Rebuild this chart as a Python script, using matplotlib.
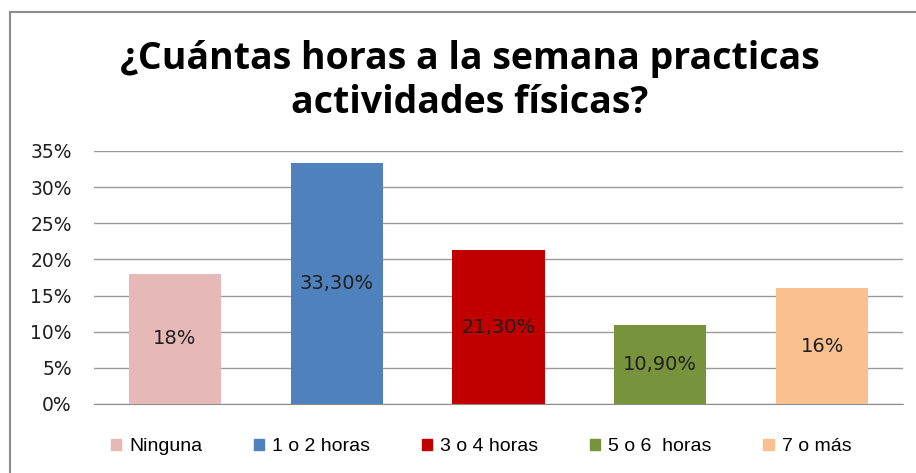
import matplotlib.pyplot as plt
import matplotlib.patches as mpatches
from matplotlib.lines import Line2D
import numpy as np

categorias = ["Ninguna", "1 o 2 horas", "3 o 4 horas", "5 o 6  horas", "7 o más"]
valores = [0.18, 0.333, 0.213, 0.109, 0.16]
etiquetas = ["18%", "33,30%", "21,30%", "10,90%", "16%"]
colores = ["#E6B9B8", "#4F81BD", "#C00000", "#77933C", "#FAC090"]
ticks = [0, 0.05, 0.10, 0.15, 0.20, 0.25, 0.30, 0.35]

fig = plt.figure(figsize=(9.16, 4.73), dpi=100)
ax = fig.add_axes([0.1026, 0.1459, 0.8832, 0.5349])

x = np.arange(len(categorias))
bars = ax.bar(x, valores, width=0.57, color=colores, zorder=3)
for b, v, t in zip(bars, valores, etiquetas):
    ax.text(b.get_x() + b.get_width() / 2, v / 2, t, ha="center", va="center",
            fontsize=14, family="DejaVu Sans", color="#1f1f1f", zorder=4)

ax.set_xlim(-0.5, len(categorias) - 0.5)
ax.set_ylim(0, 0.35)
ax.set_yticks(ticks)
ax.set_yticklabels([f"{int(round(t * 100))}%" for t in ticks], fontsize=13.5, family="DejaVu Sans")
ax.set_xticks([])
ax.yaxis.grid(True, color="#9a9a9a", linewidth=1, zorder=0)
for s in ["top", "right", "left"]:
    ax.spines[s].set_visible(False)
ax.spines["bottom"].set_color("#8c8c8c")
ax.tick_params(axis="y", length=0, pad=16, colors="#1f1f1f")

fig.text(0.513, 0.829, "¿Cuántas horas a la semana practicas\nactividades físicas?",
         ha="center", va="center", fontsize=27, fontweight="bold", family="Open Sans",
         linespacing=1.2)

handles = [mpatches.Patch(color=c, label=l) for c, l in zip(colores, categorias)]
fig.legend(handles=handles, loc="center", bbox_to_anchor=(0.525, 0.055), ncol=5,
           frameon=False, prop={"family": "Liberation Sans", "size": 14},
           handlelength=0.55, handleheight=0.55, handletextpad=0.4, columnspacing=2.65)

# marco del gráfico
fig.add_artist(Line2D([10 / 916, 1], [1 - 12 / 473, 1 - 12 / 473], color="#8c8c8c", lw=1.5))
fig.add_artist(Line2D([10 / 916, 10 / 916], [0, 1 - 12 / 473], color="#8c8c8c", lw=1.5))

fig.savefig("out.png", dpi=100)
